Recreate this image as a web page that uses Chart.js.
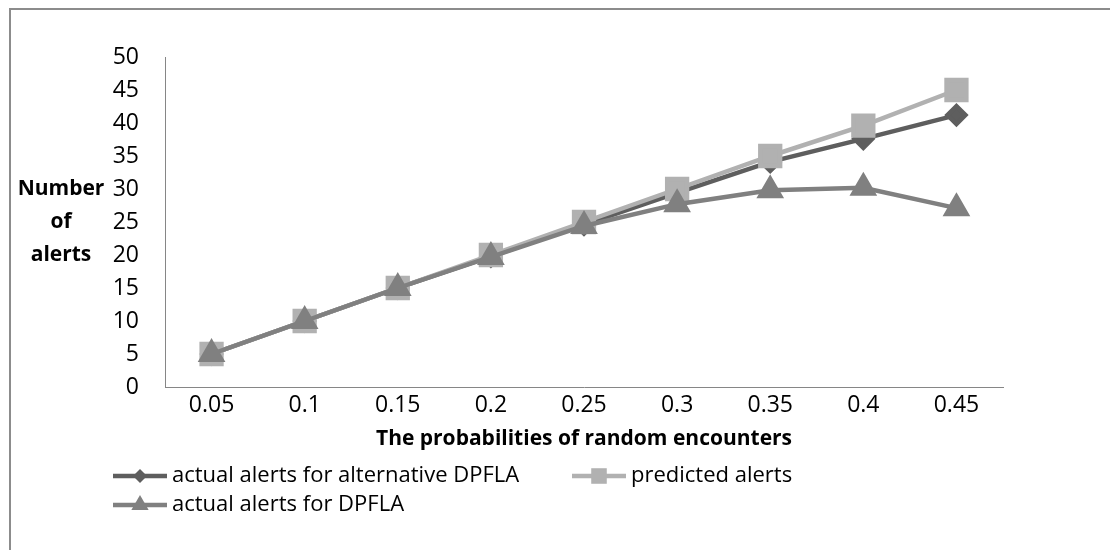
<!DOCTYPE html>
<html>
<head>
<meta charset="utf-8">
<script src="https://cdn.jsdelivr.net/npm/chart.js@4.4.0/dist/chart.umd.min.js"></script>
<style>
html, body { margin: 0; padding: 0; background: #fff; overflow: hidden; }
#wrap { position: relative; width: 1110px; height: 550px; overflow: hidden; }
#frame { position: absolute; left: 9px; top: 8px; width: 1200px; height: 700px;
         border-left: 2px solid #8c8c8c; border-top: 2px solid #8c8c8c; }
canvas { position: absolute; left: 0; top: 0; }
</style>
</head>
<body>
<div id="wrap">
  <div id="frame"></div>
  <canvas id="alertsChart" width="1110" height="550"></canvas>
</div>
<script>
const probabilities = ['0.05', '0.1', '0.15', '0.2', '0.25', '0.3', '0.35', '0.4', '0.45'];
const alternativeAlerts = [5, 10, 15, 19.8, 24.6, 29.4, 34.1, 37.6, 41.2];
const predictedAlerts = [5, 10, 15, 20, 25, 30, 35, 39.6, 45];
const dpflaAlerts = [5, 10, 15, 19.7, 24.4, 27.7, 29.8, 30.2, 27.1];

const FONT = "'Open Sans', sans-serif";
Chart.defaults.font.family = FONT;
Chart.defaults.color = '#000';

// Excel-style legend (line + marker) and horizontal y title
const extras = {
    id: 'extras',
    afterDraw(chart) {
        const ctx = chart.ctx;
        ctx.save();
        ctx.fillStyle = '#000';
        ctx.font = 'bold 21px ' + FONT;
        ctx.textAlign = 'center';
        ctx.textBaseline = 'middle';
        ['Number', 'of', 'alerts'].forEach((t, i) => ctx.fillText(t, 61, 189 + i * 33));

        const items = [
            { ds: 0, x: 113, y: 476 },
            { ds: 1, x: 572, y: 476 },
            { ds: 2, x: 113, y: 505 }
        ];
        ctx.font = '22px ' + FONT;
        ctx.textAlign = 'left';
        items.forEach(it => {
            const d = chart.data.datasets[it.ds];
            ctx.strokeStyle = d.borderColor;
            ctx.lineWidth = 4.5;
            ctx.beginPath();
            ctx.moveTo(it.x, it.y);
            ctx.lineTo(it.x + 54, it.y);
            ctx.stroke();
            ctx.fillStyle = d.pointBackgroundColor;
            Chart.helpers.drawPoint(ctx, {
                pointStyle: d.pointStyle, radius: d.legendRadius, rotation: 0, borderWidth: 0
            }, it.x + 27, it.y);
            ctx.fillStyle = '#000';
            ctx.fillText(d.label, it.x + 59, it.y);
        });
        ctx.restore();
    }
};

new Chart(document.getElementById('alertsChart'), {
    type: 'line',
    data: {
        labels: probabilities,
        datasets: [{
            label: 'actual alerts for alternative DPFLA',
            data: alternativeAlerts,
            borderColor: '#5e5e5e',
            pointBackgroundColor: '#5e5e5e',
            pointBorderColor: '#5e5e5e',
            pointStyle: 'rectRot',
            pointRadius: 9,
            legendRadius: 7,
            borderWidth: 4.5,
            order: 3
        }, {
            label: 'predicted alerts',
            data: predictedAlerts,
            borderColor: '#b1b1b1',
            pointBackgroundColor: '#b1b1b1',
            pointBorderColor: '#b1b1b1',
            pointStyle: 'rect',
            pointRadius: 14,
            legendRadius: 11,
            borderWidth: 4.5,
            order: 2
        }, {
            label: 'actual alerts for DPFLA',
            data: dpflaAlerts,
            borderColor: '#808080',
            pointBackgroundColor: '#808080',
            pointBorderColor: '#808080',
            pointStyle: 'triangle',
            pointRadius: 11.5,
            legendRadius: 10,
            borderWidth: 4.5,
            order: 1
        }]
    },
    options: {
        responsive: false,
        animation: false,
        layout: { padding: { top: 57, right: 107, bottom: 98, left: 0 } },
        plugins: {
            legend: { display: false },
            tooltip: { enabled: false }
        },
        elements: {
            line: { tension: 0 },
            point: { borderWidth: 0, hoverRadius: 0 }
        },
        scales: {
            x: {
                offset: true,
                grid: { display: false, drawTicks: false },
                border: { color: '#868686', width: 1 },
                ticks: { padding: 5, font: { size: 23 }, color: '#000' },
                title: {
                    display: true,
                    text: 'The probabilities of random encounters',
                    font: { size: 21, weight: 'bold' },
                    color: '#000',
                    padding: { top: 0, bottom: 0 }
                },
                afterFit(scale) { scale.height = 65; }
            },
            y: {
                min: 0,
                max: 50,
                grid: { display: false, drawTicks: false },
                border: { color: '#868686', width: 1 },
                ticks: { stepSize: 5, autoSkip: false, padding: 26, font: { size: 23 }, color: '#000' },
                afterFit(scale) { scale.width = 165; }
            }
        }
    },
    plugins: [extras]
});
</script>
</body>
</html>
